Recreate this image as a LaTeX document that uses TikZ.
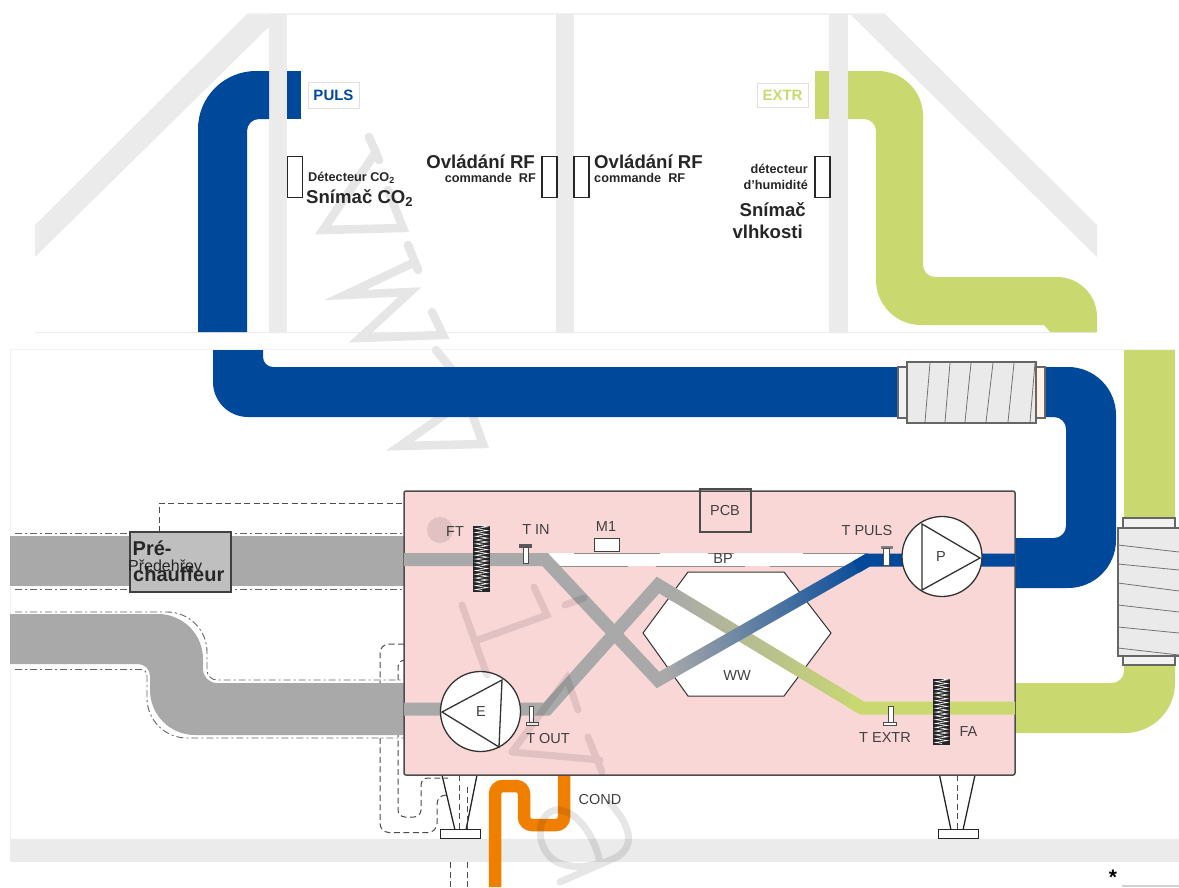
\documentclass[tikz,border=0pt]{standalone}
\usepackage{fontspec}
\setmainfont{Liberation Sans}
\usepackage{xcolor}
\usetikzlibrary{calc, positioning, decorations.pathmorphing}

\definecolor{roofgray}{HTML}{EBEBEB}
\definecolor{pipeblue}{HTML}{00489A}
\definecolor{pipegreen}{HTML}{C9D96F}
\definecolor{pipegray}{HTML}{A9A9A9}
\definecolor{pipeorange}{HTML}{F07F00}
\definecolor{unitpink}{HTML}{FAD7D7}
\definecolor{flexgray}{HTML}{EAEAEA}
\definecolor{markgray}{HTML}{E6E6E6}

\tikzset{
    sensorbox/.style={draw=black!85, line width=1.4, fill=white, minimum width=15, minimum height=41, inner sep=0},
    bigtxt/.style={font=\fontsize{18.6}{20}\selectfont\bfseries, text=black!85, inner sep=0},
    smalltxt/.style={font=\fontsize{12.7}{14}\selectfont\bfseries, text=black!85, inner sep=0},
    unittxt/.style={font=\fontsize{14.5}{16}\selectfont, text=black!75, inner sep=0},
    filterpad/.style={draw=black!85, fill=black!85, minimum width=16, inner sep=0},
    tempstem/.style={draw=black!70, line width=0.9, fill=white},
    wire/.style={draw=black!70, line width=1, dash pattern=on 6pt off 3.5pt},
    ductline/.style={draw=black!60, line width=0.9, dash pattern=on 7pt off 3pt on 2pt off 3pt},
    fan/.style={circle, draw=black!80, line width=1.3, fill=white, minimum size=80, inner sep=0},
    flexbody/.style={draw=black!60, line width=1.2, fill=flexgray},
    flexline/.style={draw=black!55, line width=0.8},
    footline/.style={draw=black!85, line width=1.3},
    footbase/.style={draw=black!85, line width=1, fill=white}
}

\begin{document}
\begin{tikzpicture}[x=1pt, y=-1pt]
    \useasboundingbox (0,0) rectangle (1179,887);

    % 1. Roof and walls
    \fill[roofgray] (35,225) -- (247,14) -- (282,14) -- (35,257) -- cycle;
    \fill[roofgray] (1097,225) -- (885,14) -- (850,14) -- (1097,257) -- cycle;
    \fill[roofgray!70] (247,12.5) rectangle (885,14.5);
    \fill[roofgray] (269,14) rectangle (287,332);
    \fill[roofgray] (556,14) rectangle (574,332);
    \fill[roofgray] (829,14) rectangle (848,332);
    \draw[roofgray, line width=1.2] (35,332.5) -- (1097,332.5);

    % 2. Frame of the lower part and floor
    \draw[black!5, line width=1] (10,839) -- (10,349.5) -- (1175,349.5);
    \fill[roofgray] (10,839) rectangle (1179,862);

    % watermark, upper letters
    \draw[markgray, line width=8.5, line cap=round, line join=miter]
        (369,137) -- (379,160) (376,152) -- (323,230) -- (403,228) -- (388,190)
        (408,245) -- (418,270) (415,262) -- (345,295) -- (410,292) -- (360,338) -- (443,335) -- (432,312)
        (436,350) -- (457,376) -- (385,405) -- (465,400) -- (400,446) -- (483,444) -- (470,408);

    % 3. Ducts in the roof
    \fill[pipeblue] (198,332) [rounded corners=58] -- (198,71) [sharp corners] -- (269,71) -- (269,119)
        [rounded corners=12] -- (247,119) [sharp corners] -- (247,332) -- cycle;
    \fill[pipeblue] (287,71) rectangle (301,119);
    \fill[pipegreen] (815,71) rectangle (829,119);
    \fill[pipegreen] (848,71) [rounded corners=45] -- (923,71) [rounded corners=12] -- (923,277)
        [rounded corners=40] -- (1097,277) [sharp corners] -- (1097,332) -- (1050,332) -- (1044,325)
        [rounded corners=45] -- (876,325) [rounded corners=12] -- (876,119) [sharp corners] -- (848,119) -- cycle;

    \node[draw=black!12, minimum width=51, minimum height=26, inner sep=0, text=pipeblue,
        font=\fontsize{15}{18}\selectfont\bfseries] (puls) at (333.5,95) {PULS};
    \node[draw=black!12, minimum width=51, minimum height=24, inner sep=0, text=pipegreen,
        font=\fontsize{15}{18}\selectfont\bfseries] (extr) at (782.5,95) {EXTR};

    % 4. Sensors in the rooms
    \node[sensorbox] (co2s) at (295,177) {};
    \node[sensorbox] (rfa) at (549.5,177) {};
    \node[sensorbox] (rfb) at (581.5,177) {};
    \node[sensorbox] (humid) at (822.5,177) {};

    \node[smalltxt, anchor=west] at (308,178) {Détecteur CO\textsubscript{2}};
    \node[bigtxt, anchor=west] at (306,198) {Snímač CO\textsubscript{2}};
    \node[bigtxt, anchor=east] at (535,162) {Ovládání RF};
    \node[smalltxt, anchor=east] at (536,178) {commande~~RF};
    \node[bigtxt, anchor=west] at (594,162) {Ovládání RF};
    \node[smalltxt, anchor=west] at (594,178) {commande~~RF};
    \node[smalltxt, anchor=east] at (808,169) {détecteur};
    \node[smalltxt, anchor=east] at (808,185) {d'humidité};
    \node[bigtxt, anchor=east] at (806,210) {Snímač};
    \node[bigtxt, anchor=east] at (803,232) {vlhkosti};

    % 5. Ducts round the unit
    \fill[pipeblue] (213,350) [rounded corners=35] -- (213,417) [sharp corners] -- (898,417) -- (898,367)
        [rounded corners=10] -- (263,367) [sharp corners] -- (263,350) -- cycle;
    \fill[pipeblue] (1045,367) [rounded corners=48] -- (1116,367) -- (1116,588) [sharp corners] -- (1015,588) -- (1015,538)
        [rounded corners=12] -- (1066,538) -- (1066,417) [sharp corners] -- (1045,417) -- cycle;
    \fill[pipegreen] (1124,350) rectangle (1175,520);
    \fill[pipegreen] (1124,660) [rounded corners=12] -- (1124,683) [sharp corners] -- (1015,683) -- (1015,733)
        [rounded corners=50] -- (1175,733) [sharp corners] -- (1175,660) -- cycle;

    % flexible pieces
    \draw[flexbody, fill=flexgray!60] (898,367) rectangle (907,418);
    \draw[flexbody, fill=orange!10] (1036,367) rectangle (1045,418);
    \draw[flexbody] (907,362) rectangle (1036,423);
    \foreach \a/\b in {930/925, 950/945, 971/965, 993/986, 1014/1008, 1035/1030}
        \draw[flexline] (\a,363) -- (\b,422);
    \draw[flexbody, fill=flexgray!60] (1123,518) rectangle (1175,528);
    \draw[flexbody, fill=flexgray!60] (1123,656) rectangle (1175,665);
    \draw[flexbody] (1179,528) -- (1118,528) -- (1118,656) -- (1179,656);
    \foreach \a/\b in {545/552, 564/570, 583/591, 605/612, 627/633, 648/655}
        \draw[flexline] (1118,\a) -- (1179,\b);

    % 6. Ducts on the left
    \coordinate (wirebend) at (159,503);
    \coordinate (wireend) at (404,503);
    \draw[wire] (159,532) -- (wirebend) -- (wireend);
    \draw[wire, rounded corners=9] (404,644) -- (380,644) -- (380,832.5) -- (437,832.5) -- (437,795) -- (444,795);
    \draw[wire, rounded corners=7] (404,660) -- (398,660) -- (398,817) -- (421,817) -- (421,778) -- (448,778);
    \fill[pipegray] (10,536) rectangle (404,586);
    \fill[pipegray] (10,614) [rounded corners=45] -- (203,614) [rounded corners=14] -- (203,683)
        [sharp corners] -- (404,683) -- (404,735) [rounded corners=45] -- (150,735)
        [rounded corners=12] -- (150,664) [sharp corners] -- (10,664) -- cycle;
    \draw[ductline] (15,533) -- (404,533);
    \draw[ductline] (15,589) -- (404,589);
    \draw[ductline, rounded corners=40] (15,612) -- (207,612) [rounded corners=10] -- (207,680) -- (404,680);
    \draw[ductline, rounded corners=6] (15,669.5) -- (147,669.5) [rounded corners=40] -- (147,738) -- (404,738);

    \node[draw=black!75, line width=1.3, fill=black!25, minimum width=101, minimum height=60, inner sep=0] (prehtr) at (180.5,562) {};
    \node[font=\fontsize{20}{22}\selectfont\bfseries, text=black!85, inner sep=0, anchor=west] at (132.5,548) {Pré-};
    \node[font=\fontsize{16}{18}\selectfont, text=black!85, inner sep=0, anchor=west] at (128,566) {Předehřev};
    \node[font=\fontsize{20}{22}\selectfont\bfseries, text=black!85, inner sep=0, anchor=west] at (133,574) {chauffeur};

    % 7. Unit and condensate
    \draw[pipeorange, line width=12.5, rounded corners=8] (495,887) -- (495,786) -- (524,786) -- (524,825) -- (564,825) -- (564,772);
    \draw[footline] (442,775) -- (455,830);
    \draw[footline] (477,775) -- (466,830);
    \draw[wire] (459,775) -- (459,830);
    \draw[wire] (467,787) -- (467,830);
    \draw[wire] (450,862) -- (450,887);
    \draw[wire] (467,862) -- (467,887);
    \node[footbase, minimum width=40, minimum height=8.5, inner sep=0] (foota) at (460,834) {};
    \draw[footline] (939.5,775) -- (951,830);
    \draw[footline] (975,775) -- (963,830);
    \draw[wire] (957.5,775) -- (957.5,830);
    \node[footbase, minimum width=40, minimum height=8.5, inner sep=0] (footb) at (958,834) {};

    \draw[black!70, line width=1.5, fill=unitpink, rounded corners=2] (404,491) rectangle (1015,775);
    \draw[black!70, line width=1.2] (700,489) rectangle (751,532);
    \node[unittxt] (pcb) at (725,511) {PCB};

    % bypass
    \fill[white] (549,553) rectangle (868,566);
    \foreach \a/\b in {574/660, 708/734, 803/868}
        \draw[black!45, line width=1] (\a,553) -- (\b,553);
    \foreach \a/\b in {556/628, 656/745, 770/846}
        \draw[black!45, line width=1] (\a,566) -- (\b,566);
    \node[unittxt] (bp) at (723,559) {BP};

    % exchanger
    \draw[black!80, line width=1, fill=white] (643,633) -- (688,572) -- (784,572) -- (831,633) -- (784,696) -- (688,696) -- cycle;
    \node[unittxt] (ww) at (737,676) {WW};

    % 8. Air ways through the unit
    \definecolor{midgreen}{HTML}{B6C283}
    \definecolor{midblue}{HTML}{5A6FAE}
    \draw[pipegray, line width=13] (404,559.5) -- (545,559.5) -- (658,680) -- (672,672);
    \draw[pipegray, line width=13] (404,709) -- (547,709) -- (658,585) -- (676,596);
    \shade[left color=pipegray, middle color=midgreen, right color=pipegreen]
        (675.4,587.8) -- (865.4,702.4) -- (858.6,713.6) -- (668.6,599) -- cycle;
    \draw[pipegreen, line width=13] (850,701) -- (862,708) -- (1015,708);
    \shade[left color=pipegray, middle color=midblue, right color=pipeblue]
        (664.8,668.7) -- (864.8,554.4) -- (871.2,565.6) -- (671.2,679.9) -- cycle;
    \draw[pipeblue, line width=13] (856,567) -- (868,560) -- (1015,560);

    % 9. Fans, filters, sensors and labels
    \node[fan] (pfan) at (942,556.5) {};
    \draw[black!80, line width=1.3] (922,524) -- (980,558) -- (922,590) -- cycle;
    \node[unittxt] at (941,557) {P};
    \node[fan] (efan) at (480.5,711.5) {};
    \draw[black!80, line width=1.3] (502,680) -- (442,712) -- (499,747) -- cycle;
    \node[unittxt] at (481,712) {E};

    \node[filterpad, minimum height=65] (ftpad) at (481.5,558.5) {};
    \node[filterpad, minimum height=65] (fapad) at (941.5,711.5) {};
    \foreach \pad in {ftpad, fapad}
        \draw[white, line width=0.6, decorate, decoration={zigzag, segment length=3.8, amplitude=6}]
            (\pad.north) -- (\pad.south);

    \fill[black!65] (519,544) rectangle (532,547.5);
    \draw[tempstem] (523,547.5) rectangle (528,563);
    \fill[black!50] (881,546) rectangle (893,548.5);
    \draw[tempstem] (883.5,548.5) rectangle (889.5,565);
    \draw[tempstem] (529,706) rectangle (533,722);
    \draw[tempstem] (526,722) rectangle (538,725);
    \draw[tempstem] (888,706) rectangle (893,722);
    \draw[tempstem] (883,722) rectangle (896,725);
    \draw[black!75, line width=1, fill=white] (594,538) rectangle (619,551);

    \node[unittxt] at (455,532) {FT};
    \node[unittxt] at (536,530) {T IN};
    \node[unittxt] at (606,527) {M1};
    \node[unittxt] at (867,530) {T PULS};
    \node[unittxt] at (548,738) {T OUT};
    \node[unittxt] at (885,738) {T EXTR};
    \node[unittxt] at (968.5,732) {FA};
    \node[unittxt] at (600,799) {COND};

    % 10. Corner mark
    \node[font=\fontsize{21}{22}\selectfont\bfseries, inner sep=0] at (1113,877) {*};
    \fill[black!18] (1122,884.5) rectangle (1179,887);

    % 11. Watermark, lower letters
    \draw[markgray, line width=7, line cap=round, line join=miter, blend mode=multiply]
        (462,605) -- (487,675) (478,640) -- (547,615) -- (534,587)
        (565,605) -- (584,598) (512,752) -- (567,678) -- (578,710)
        (512,752) -- (600,760) (588,737) -- (602,772)
        (610,803) .. controls (630,825) and (636,845) .. (617,857) -- (560,882)
        (600,863) .. controls (595,835) and (575,808) .. (555,810)
        .. controls (535,815) and (535,850) .. (557,862) .. controls (570,868) and (585,868) .. (600,863);
    \fill[markgray, blend mode=multiply] (440,530) circle (13);
\end{tikzpicture}
\end{document}
